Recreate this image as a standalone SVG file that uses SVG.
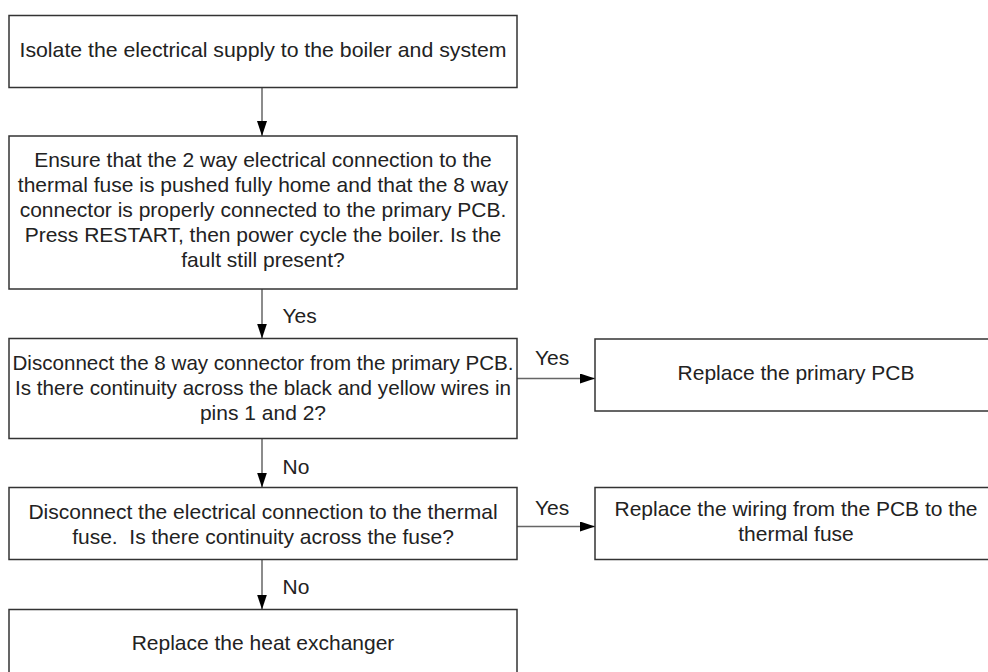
<svg xmlns="http://www.w3.org/2000/svg" width="988" height="672" viewBox="0 0 988 672">
<defs>
<style>
.box{fill:#fff;stroke:#333;stroke-width:1.5}
.t{font-family:"Liberation Sans",Arial,sans-serif;font-size:21px;fill:#222;text-anchor:middle;white-space:pre}
.lbl{font-family:"Liberation Sans",Arial,sans-serif;font-size:21px;fill:#222}
.c{stroke:#666;stroke-width:1.5;fill:none;marker-end:url(#ah)}
</style>
<marker id="ah" markerUnits="userSpaceOnUse" markerWidth="16" markerHeight="12" refX="15" refY="5" orient="auto">
<path d="M0,0 L15,5 L0,10 Z" fill="#000"/>
</marker>
</defs>
<rect width="988" height="672" fill="#fff"/>
<g id="connectors">
<line class="c" x1="262" y1="87.5" x2="262" y2="136"/>
<line class="c" x1="262" y1="289" x2="262" y2="338.5"/>
<line class="c" x1="262" y1="438.5" x2="262" y2="487.5"/>
<line class="c" x1="262" y1="559.5" x2="262" y2="609.5"/>
<line class="c" x1="517" y1="378.5" x2="595" y2="378.5"/>
<line class="c" x1="517" y1="526.5" x2="595" y2="526.5"/>
<text class="lbl" x="282.5" y="323">Yes</text>
<text class="lbl" x="282.5" y="474">No</text>
<text class="lbl" x="282.5" y="593.5">No</text>
<text class="lbl" x="535" y="365">Yes</text>
<text class="lbl" x="535" y="515">Yes</text>
</g>
<g id="n1">
<rect class="box" x="9" y="15.5" width="508" height="72"/>
<text class="t" x="263" y="57" textLength="487" lengthAdjust="spacingAndGlyphs">Isolate the electrical supply to the boiler and system</text>
</g>
<g id="n2">
<rect class="box" x="9" y="136" width="508" height="153"/>
<text class="t" x="263" y="166.5">Ensure that the 2 way electrical connection to the</text>
<text class="t" x="263" y="191.7">thermal fuse is pushed fully home and that the 8 way</text>
<text class="t" x="263" y="217">connector is properly connected to the primary PCB.</text>
<text class="t" x="263" y="242.2">Press RESTART, then power cycle the boiler. Is the</text>
<text class="t" x="263" y="267.4">fault still present?</text>
</g>
<g id="n3">
<rect class="box" x="9" y="338.5" width="508" height="100"/>
<text class="t" x="263" y="369.5" textLength="501" lengthAdjust="spacingAndGlyphs">Disconnect the 8 way connector from the primary PCB.</text>
<text class="t" x="263" y="394.7" textLength="496" lengthAdjust="spacingAndGlyphs">Is there continuity across the black and yellow wires in</text>
<text class="t" x="263" y="420">pins 1 and 2?</text>
</g>
<g id="n4">
<rect class="box" x="9" y="487.5" width="508" height="72"/>
<text class="t" x="263" y="519">Disconnect the electrical connection to the thermal</text>
<text class="t" x="263" y="544.2" xml:space="preserve">fuse.  Is there continuity across the fuse?</text>
</g>
<g id="n5">
<rect class="box" x="9" y="609.5" width="508" height="72"/>
<text class="t" x="263" y="650">Replace the heat exchanger</text>
</g>
<g id="n6">
<rect class="box" x="595" y="339" width="402" height="72"/>
<text class="t" x="796" y="379.5">Replace the primary PCB</text>
</g>
<g id="n7">
<rect class="box" x="595" y="487.5" width="402" height="72"/>
<text class="t" x="796" y="516">Replace the wiring from the PCB to the</text>
<text class="t" x="796" y="541.2">thermal fuse</text>
</g>
</svg>
